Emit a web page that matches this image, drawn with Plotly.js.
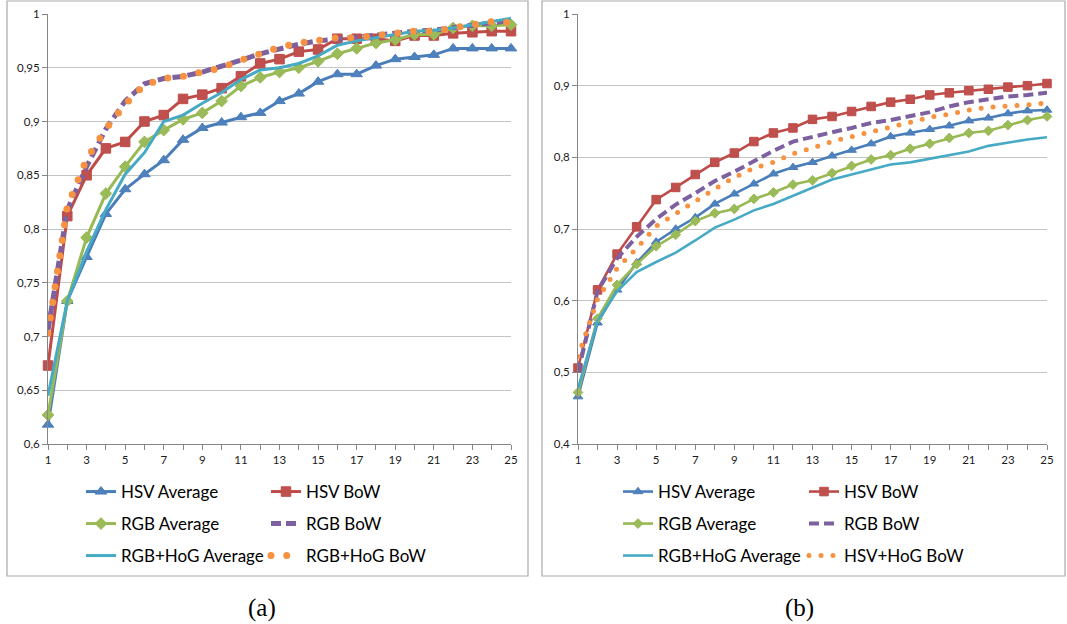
<!DOCTYPE html>
<html>
<head>
<meta charset="utf-8">
<script src="https://cdn.plot.ly/plotly-3.0.1.min.js"></script>
<style>
html, body { margin: 0; padding: 0; background: #ffffff; }
#wrap { position: relative; width: 1067px; height: 624px; overflow: hidden; background: #fff; }
#panelA { position: absolute; left: 0; top: 0; width: 535px; height: 624px; }
#panelB { position: absolute; left: 535px; top: 0; width: 532px; height: 624px; }
/* round caps turn the zero-length dashes of the orange series into dots */
path.js-line[style*="246, 146, 64"] { stroke-linecap: round; }
</style>
</head>
<body>
<div id="wrap"><div id="panelA"></div><div id="panelB"></div></div>
<script>
// ---------------- data ----------------
const ranks = [1,2,3,4,5,6,7,8,9,10,11,12,13,14,15,16,17,18,19,20,21,22,23,24,25];

// panel (a)
const namesA = ["HSV Average", "HSV BoW", "RGB Average", "RGB BoW", "RGB+HoG Average", "RGB+HoG BoW"];
const hsvAvgA    = [0.618,0.733,0.774,0.814,0.837,0.851,0.864,0.883,0.894,0.899,0.904,0.908,0.919,0.926,0.937,0.944,0.944,0.952,0.958,0.960,0.962,0.968,0.968,0.968,0.968];
const hsvBowA    = [0.673,0.812,0.850,0.875,0.881,0.900,0.906,0.921,0.925,0.931,0.942,0.954,0.958,0.965,0.967,0.977,0.977,0.977,0.975,0.980,0.980,0.982,0.983,0.984,0.984];
const rgbAvgA    = [0.627,0.733,0.792,0.833,0.858,0.881,0.892,0.902,0.908,0.919,0.933,0.941,0.946,0.950,0.956,0.963,0.968,0.973,0.976,0.981,0.981,0.987,0.989,0.989,0.990];
const rgbBowA    = [0.706,0.818,0.858,0.893,0.919,0.935,0.940,0.942,0.946,0.951,0.957,0.963,0.968,0.972,0.975,0.977,0.978,0.980,0.982,0.984,0.985,0.987,0.989,0.991,0.994];
const rgbHogAvgA = [0.645,0.733,0.779,0.818,0.851,0.871,0.900,0.906,0.917,0.927,0.939,0.948,0.950,0.954,0.961,0.971,0.975,0.978,0.981,0.984,0.985,0.987,0.990,0.993,0.996];
const rgbHogBowA = [0.703,0.821,0.865,0.893,0.916,0.934,0.940,0.942,0.946,0.950,0.957,0.963,0.969,0.973,0.975,0.978,0.978,0.980,0.982,0.984,0.984,0.987,0.990,0.993,0.992];
const yTickValsA = [0.6,0.65,0.7,0.75,0.8,0.85,0.9,0.95,1];
const yTickTextA = ["0,6","0,65","0,7","0,75","0,8","0,85","0,9","0,95","1"];

// panel (b)
const namesB = ["HSV Average", "HSV BoW", "RGB Average", "RGB BoW", "RGB+HoG Average", "HSV+HoG BoW"];
const hsvAvgB    = [0.466,0.569,0.615,0.653,0.682,0.700,0.716,0.735,0.749,0.763,0.777,0.786,0.793,0.802,0.810,0.819,0.829,0.834,0.839,0.844,0.851,0.855,0.861,0.865,0.866];
const hsvBowB    = [0.506,0.615,0.665,0.703,0.741,0.758,0.776,0.793,0.806,0.822,0.834,0.841,0.853,0.857,0.864,0.871,0.877,0.881,0.887,0.890,0.893,0.895,0.898,0.900,0.903];
const rgbAvgB    = [0.472,0.575,0.622,0.651,0.676,0.692,0.711,0.722,0.728,0.742,0.751,0.762,0.768,0.778,0.788,0.797,0.803,0.812,0.819,0.827,0.834,0.837,0.845,0.852,0.857];
const rgbBowB    = [0.500,0.613,0.659,0.689,0.714,0.734,0.750,0.767,0.780,0.795,0.809,0.822,0.829,0.835,0.841,0.848,0.852,0.857,0.863,0.871,0.877,0.881,0.885,0.887,0.890];
const rgbHogAvgB = [0.478,0.572,0.613,0.640,0.654,0.667,0.684,0.702,0.713,0.726,0.735,0.746,0.758,0.769,0.776,0.783,0.790,0.793,0.798,0.804,0.808,0.816,0.821,0.825,0.828];
const hsvHogBowB = [0.522,0.602,0.645,0.673,0.704,0.722,0.739,0.756,0.772,0.785,0.793,0.805,0.813,0.822,0.829,0.835,0.842,0.849,0.856,0.860,0.866,0.870,0.871,0.873,0.876];
const yTickValsB = [0.4,0.5,0.6,0.7,0.8,0.9,1];
const yTickTextB = ["0,4","0,5","0,6","0,7","0,8","0,9","1"];

const captions = ["(a)", "(b)"];

// ---------------- styling ----------------
const COL = {
  blue:   { line: "#4A7EBB", mk: "#4F81BD" },
  red:    { line: "#BE4B48", mk: "#C0504D" },
  green:  { line: "#98B954", mk: "#9BBB59" },
  purple: { line: "#7D60A0" },
  cyan:   { line: "#46AAC5" },
  orange: { line: "rgb(246, 146, 64)" }
};
const TICKFONT = { family: "Lato, 'Open Sans', sans-serif", size: 11.5, color: "#1a1a1a" };
const LEGFONT  = { family: "Lato, 'Open Sans', sans-serif", size: 17, color: "#000000" };

function makeTraces(names, ys, st) {
  const legendIds = ["legend", "legend", "legend2", "legend2", "legend3", "legend3"];
  const specs = [
    { c: COL.blue,   sym: "triangle-up", size: st.tri },
    { c: COL.red,    sym: "square",      size: st.sq },
    { c: COL.green,  sym: "diamond",     size: st.dia },
    { c: COL.purple, dash: st.purpleDash, width: st.purpleW },
    { c: COL.cyan },
    { c: COL.orange, dash: st.orangeDash, width: st.orangeW }
  ];
  return names.map((nm, i) => {
    const s = specs[i];
    const t = {
      type: "scatter", x: ranks, y: ys[i], name: nm, legend: legendIds[i],
      mode: s.sym ? "lines+markers" : "lines",
      line: { color: s.c.line, width: s.width || st.lw, dash: s.dash || "solid" },
      cliponaxis: false, hoverinfo: "skip"
    };
    if (s.sym) t.marker = { symbol: s.sym, size: s.size, color: s.c.mk, line: { width: 1, color: s.c.line } };
    return t;
  });
}

function makeLayout(P) {
  const w = P.width - P.l - P.r, h = 624 - 14 - 180;
  const px = v => (v - P.l) / w;
  const py = v => (14 + h - v) / h;
  const leg = (rowY) => ({
    orientation: "h", x: px(P.legX), xanchor: "left", y: py(rowY), yanchor: "middle",
    entrywidth: P.entryW, entrywidthmode: "pixels", font: LEGFONT,
    bgcolor: "rgba(0,0,0,0)", borderwidth: 0, traceorder: "normal"
  });
  const axisCol = "#868686";
  return {
    width: P.width, height: 624,
    margin: { l: P.l, r: P.r, t: 14, b: 180, pad: 0 },
    paper_bgcolor: "rgba(0,0,0,0)", plot_bgcolor: "#ffffff",
    showlegend: true,
    xaxis: {
      range: [1, 25], tickmode: "linear", tick0: 1, dtick: 2,
      showgrid: false, zeroline: false, showline: true, linecolor: axisCol, linewidth: 1,
      ticks: "outside", ticklen: 5, tickcolor: axisCol, tickwidth: 1, tickfont: TICKFONT,
      minor: { tick0: 1, dtick: 1, ticks: "outside", ticklen: 5, tickcolor: axisCol, showgrid: false },
      fixedrange: true
    },
    yaxis: {
      range: [P.ymin, 1], tickmode: "array", tickvals: P.tickVals, ticktext: P.tickText,
      showgrid: true, gridcolor: "#c4c4c4", gridwidth: 1, zeroline: false,
      showline: true, linecolor: axisCol, linewidth: 1,
      ticks: "outside", ticklen: 5, tickcolor: axisCol, tickfont: TICKFONT,
      fixedrange: true
    },
    legend: leg(P.rows[0]), legend2: leg(P.rows[1]), legend3: leg(P.rows[2]),
    shapes: [{
      type: "rect", xref: "paper", yref: "paper", layer: "below",
      x0: px(P.box[0]), x1: px(P.box[2]), y0: py(P.box[3]), y1: py(P.box[1]),
      line: { color: "#a9a9a9", width: 1.2 }, fillcolor: "rgba(0,0,0,0)"
    }],
    annotations: [{
      xref: "paper", yref: "paper", x: px(P.capX), y: py(P.capY),
      xanchor: "center", yanchor: "middle", showarrow: false, text: P.caption,
      font: { family: "'Liberation Serif', 'DejaVu Serif', serif", size: 25, color: "#000" }
    }]
  };
}

const cfg = { staticPlot: true, displayModeBar: false };

const stA = { lw: 3, tri: 10, sq: 9.5, dia: 9, purpleDash: "10px,5px", purpleW: 5, orangeDash: "0px,15.7px", orangeW: 7 };
const stB = { lw: 2.6, tri: 8.5, sq: 8.5, dia: 7.5, purpleDash: "10px,5px", purpleW: 4, orangeDash: "0px,12px", orangeW: 5 };

Plotly.newPlot("panelA",
  makeTraces(namesA, [hsvAvgA, hsvBowA, rgbAvgA, rgbBowA, rgbHogAvgA, rgbHogBowA], stA),
  makeLayout({ width: 535, l: 48, r: 24, ymin: 0.6, tickVals: yTickValsA, tickText: yTickTextA,
               legX: 81, entryW: 140, rows: [492, 524, 556], box: [7, 1, 528, 576],
               capX: 262, capY: 608, caption: captions[0] }),
  cfg);

Plotly.newPlot("panelB",
  makeTraces(namesB, [hsvAvgB, hsvBowB, rgbAvgB, rgbBowB, rgbHogAvgB, hsvHogBowB], stB),
  makeLayout({ width: 532, l: 43, r: 20, ymin: 0.4, tickVals: yTickValsB, tickText: yTickTextB,
               legX: 83, entryW: 141, rows: [492, 524, 556], box: [7, 1, 530, 576],
               capX: 264, capY: 608, caption: captions[1] }),
  cfg);
</script>
</body>
</html>
